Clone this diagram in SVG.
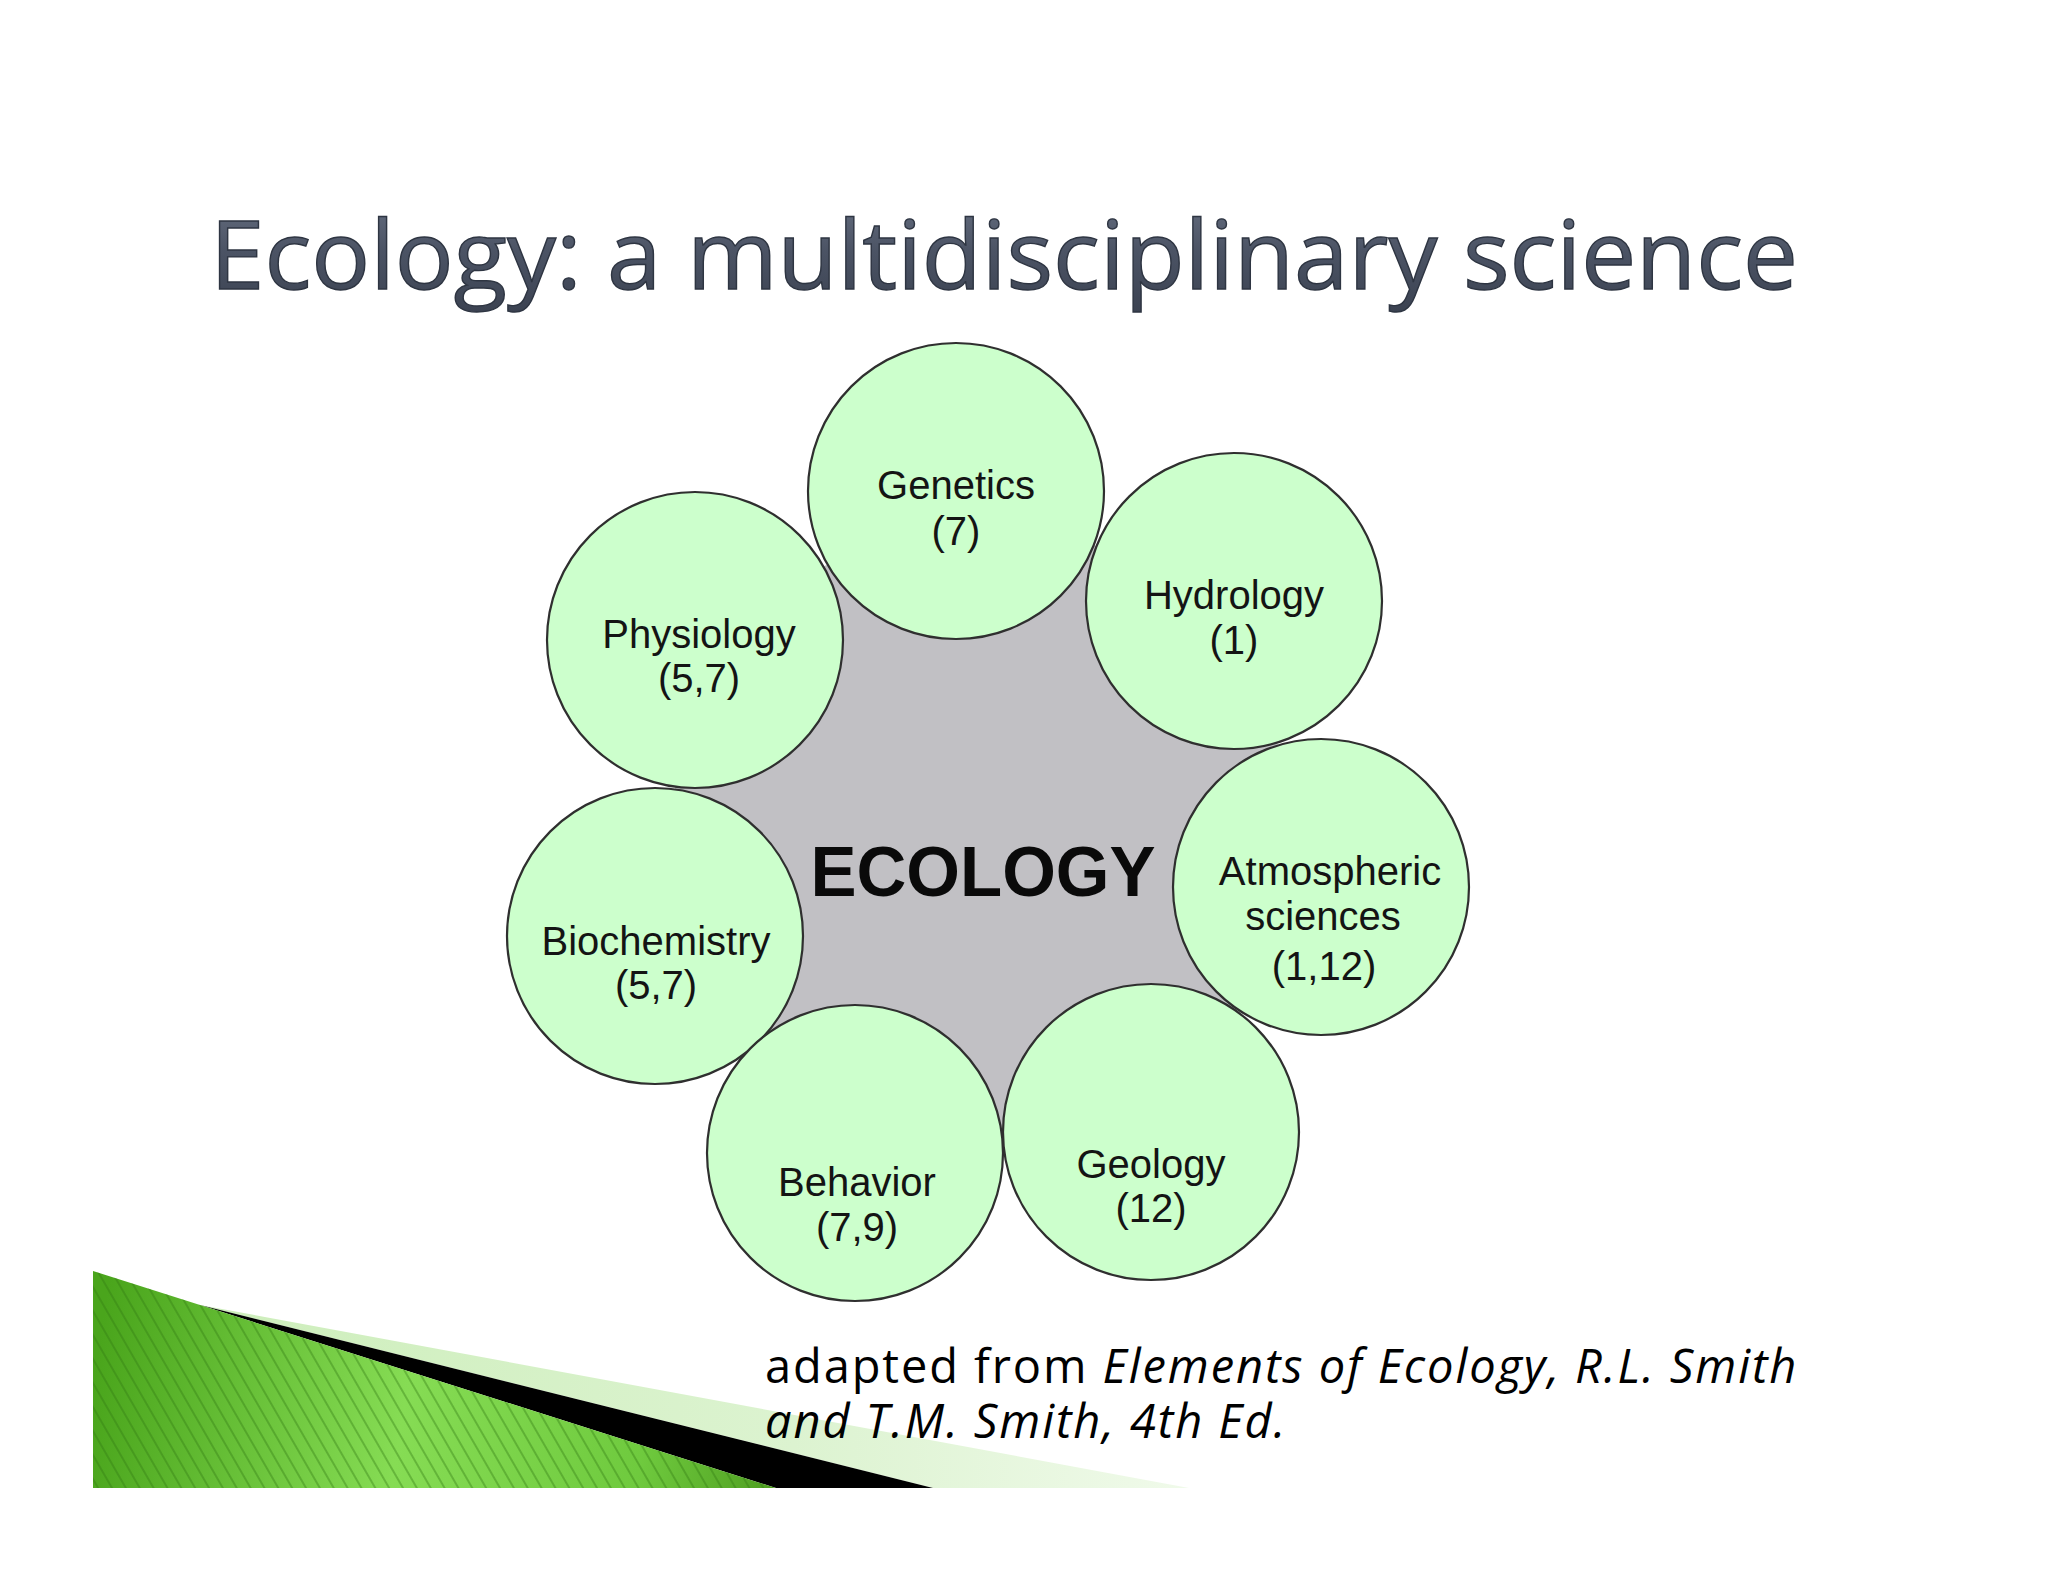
<svg xmlns="http://www.w3.org/2000/svg" width="2048" height="1582" viewBox="0 0 2048 1582">
<defs>
<style>
.node circle{fill:#ccffcc;stroke:#2f2f2f;stroke-width:2.2}
.lbl{font-family:"Liberation Sans",Arial,sans-serif;font-size:40px;fill:#141414;text-anchor:middle}
.title{font-family:"Open Sans","Noto Sans",sans-serif;font-size:95px;fill:url(#titleGrad);stroke:#2e3542;stroke-width:1.4}
.cap{font-family:"Open Sans","Noto Sans",sans-serif;font-size:47px;fill:#000;letter-spacing:1.9px}
</style>
<linearGradient id="titleGrad" x1="0" y1="0" x2="0" y2="1">
<stop offset="0" stop-color="#6a7385"/>
<stop offset="0.5" stop-color="#4b5364"/>
<stop offset="1" stop-color="#3a4150"/>
</linearGradient>
<linearGradient id="greenGrad" x1="93" y1="1380" x2="776" y2="1488" gradientUnits="userSpaceOnUse">
<stop offset="0" stop-color="#4aa51c"/>
<stop offset="0.45" stop-color="#86dc54"/>
<stop offset="0.8" stop-color="#6fca3e"/>
<stop offset="1" stop-color="#4e9e20"/>
</linearGradient>
<pattern id="hatch" width="12" height="12" patternUnits="userSpaceOnUse" patternTransform="rotate(-30)">
<line x1="1" y1="0" x2="1" y2="12" stroke="#2f7a10" stroke-width="1.4" stroke-opacity="0.55"/>
</pattern>
<linearGradient id="paleGrad" x1="200" y1="0" x2="1189" y2="0" gradientUnits="userSpaceOnUse">
<stop offset="0" stop-color="#cdeebb"/>
<stop offset="0.6" stop-color="#dcf3d0"/>
<stop offset="1" stop-color="#f0faea"/>
</linearGradient>
</defs>
<rect width="2048" height="1582" fill="#ffffff"/>

<text class="title" x="210" y="289" textLength="1588" lengthAdjust="spacingAndGlyphs">Ecology: a multidisciplinary science</text>

<g id="decoration">
<polygon points="200,1305 1189,1488 933,1488" fill="url(#paleGrad)"/>
<polygon points="200,1305 933,1488 776,1488" fill="#000"/>
<polygon points="93,1271 200,1305 776,1488 93,1488" fill="url(#greenGrad)"/>
<polygon points="93,1271 200,1305 776,1488 93,1488" fill="url(#hatch)"/>
</g>

<g id="connectors">
<polygon id="ecology-area" points="956,491 1234,601 1321,887 1151,1132 855,1153 655,936 695,640" fill="#c1c0c4"/>
</g>

<g id="ecology">
<text x="983" y="896" font-family="'Liberation Sans',Arial,sans-serif" font-weight="bold" font-size="71" fill="#0a0a0a" text-anchor="middle" textLength="345" lengthAdjust="spacingAndGlyphs">ECOLOGY</text>
</g>

<g id="physiology" class="node">
<circle cx="695" cy="640" r="148"/>
<text class="lbl" x="699" y="648">Physiology</text>
<text class="lbl" x="699" y="692">(5,7)</text>
</g>
<g id="genetics" class="node">
<circle cx="956" cy="491" r="148"/>
<text class="lbl" x="956" y="499">Genetics</text>
<text class="lbl" x="956" y="545">(7)</text>
</g>
<g id="hydrology" class="node">
<circle cx="1234" cy="601" r="148"/>
<text class="lbl" x="1234" y="609">Hydrology</text>
<text class="lbl" x="1234" y="654">(1)</text>
</g>
<g id="atmospheric" class="node">
<circle cx="1321" cy="887" r="148"/>
<text class="lbl" x="1330" y="885">Atmospheric</text>
<text class="lbl" x="1323" y="930">sciences</text>
<text class="lbl" x="1324" y="980">(1,12)</text>
</g>
<g id="biochemistry" class="node">
<circle cx="655" cy="936" r="148"/>
<text class="lbl" x="656" y="955">Biochemistry</text>
<text class="lbl" x="656" y="999">(5,7)</text>
</g>
<g id="behavior" class="node">
<circle cx="855" cy="1153" r="148"/>
<text class="lbl" x="857" y="1196">Behavior</text>
<text class="lbl" x="857" y="1241">(7,9)</text>
</g>
<g id="geology" class="node">
<circle cx="1151" cy="1132" r="148"/>
<text class="lbl" x="1151" y="1178">Geology</text>
<text class="lbl" x="1151" y="1222">(12)</text>
</g>

<text class="cap" x="765" y="1383">adapted from <tspan font-style="italic">Elements of Ecology, R.L. Smith</tspan><tspan x="765" y="1438" font-style="italic">and T.M. Smith, 4th Ed.</tspan></text>
</svg>
